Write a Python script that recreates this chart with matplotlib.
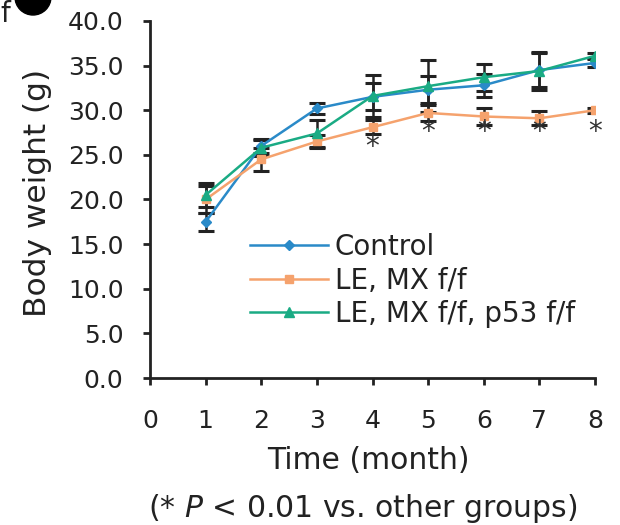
import matplotlib
matplotlib.use("Agg")
import matplotlib.pyplot as plt
from matplotlib.patches import Ellipse

plt.rcParams['font.family'] = ['DejaVu Sans']
plt.rcParams['mathtext.fontset'] = 'dejavusans'

months = [1, 2, 3, 4, 5, 6, 7, 8]
control = [17.5, 26.0, 30.2, 31.5, 32.3, 32.8, 34.5, 35.3]
control_err = [1.0, 0.8, 0.6, 1.5, 1.5, 1.3, 1.9, 0.4]
le_mx = [20.0, 24.5, 26.5, 28.1, 29.7, 29.3, 29.1, 30.0]
le_mx_err = [1.5, 1.3, 0.7, 0.8, 0.9, 0.9, 0.8, 0.3]
le_mx_p53 = [20.5, 25.8, 27.4, 31.6, 32.7, 33.7, 34.4, 36.1]
le_mx_p53_err = [1.3, 0.9, 1.5, 2.4, 2.9, 1.5, 2.1, 0.3]
star_months = [4, 5, 6, 7, 8]
star_y = [25.9, 27.6, 27.6, 27.6, 27.6]
legend_labels = ['Control', 'LE, MX f/f', 'LE, MX f/f, p53 f/f']
xticks = [0, 1, 2, 3, 4, 5, 6, 7, 8]
yticks = [0, 5, 10, 15, 20, 25, 30, 35, 40]

W, H = 620, 525
fig = plt.figure(figsize=(6.2, 5.25), dpi=100)
ax = fig.add_axes([150 / W, 1 - 378 / H, 445 / W, 357 / H])

c_blue = '#2a8ac8'
c_orange = '#f5a26d'
c_green = '#1aab84'
ink = '#222222'

series = [
    (control, control_err, c_blue, 'D', 5),
    (le_mx, le_mx_err, c_orange, 's', 6),
    (le_mx_p53, le_mx_p53_err, c_green, '^', 7.5),
]
handles = []
for (vals, errs, col, mk, ms), lab in zip(series, legend_labels):
    ax.errorbar(months, vals, yerr=errs, fmt='none', ecolor=ink,
                elinewidth=1.8, capsize=5.5, capthick=2.2, zorder=2)
    h, = ax.plot(months, vals, color=col, marker=mk, markersize=ms,
                 linewidth=1.8, label=lab, zorder=3)
    handles.append(h)

for m, y in zip(star_months, star_y):
    ax.text(m, y, '*', ha='center', va='center', fontsize=20, color='#333333')

ax.set_xlim(0, 8)
ax.set_ylim(0, 40)
ax.set_xticks(xticks)
ax.set_yticks(yticks)
ax.set_yticklabels([f'{v:.1f}' for v in yticks])
for s in ['top', 'right']:
    ax.spines[s].set_visible(False)
for s in ['left', 'bottom']:
    ax.spines[s].set_linewidth(2)
    ax.spines[s].set_color(ink)
ax.tick_params(axis='both', labelsize=18, width=2, length=5, colors=ink,
               direction='out', pad=14)
ax.tick_params(axis='x', pad=17)

fig.text(38 / W, 1 - 193 / H, 'Body weight (g)', rotation=90, fontsize=22.5,
         ha='center', va='center', color=ink)
fig.text(368 / W, 1 - 469 / H, 'Time (month)', fontsize=21.5,
         ha='center', va='baseline', color=ink)
fig.text(363 / W, 1 - 517 / H, '(* $\\mathit{P}$ < 0.01 vs. other groups)',
         fontsize=21.5, ha='center', va='baseline', color=ink)

leg = ax.legend(handles=handles, loc='upper left',
                bbox_to_anchor=(250 / W, 1 - 233 / H),
                bbox_transform=fig.transFigure,
                frameon=False, fontsize=20, handlelength=2.8,
                handletextpad=0.25, labelspacing=0.2, borderpad=0,
                borderaxespad=0)
for t in leg.get_texts():
    t.set_color(ink)

fig.text(0.0, 1.0, 'f', fontsize=20, va='top', ha='left', color=ink)
fig.patches.append(Ellipse((33 / W, 1 + 3 / H), 36 / W, 36 / H,
                           transform=fig.transFigure, color='black'))

fig.savefig('out.png', dpi=100)
